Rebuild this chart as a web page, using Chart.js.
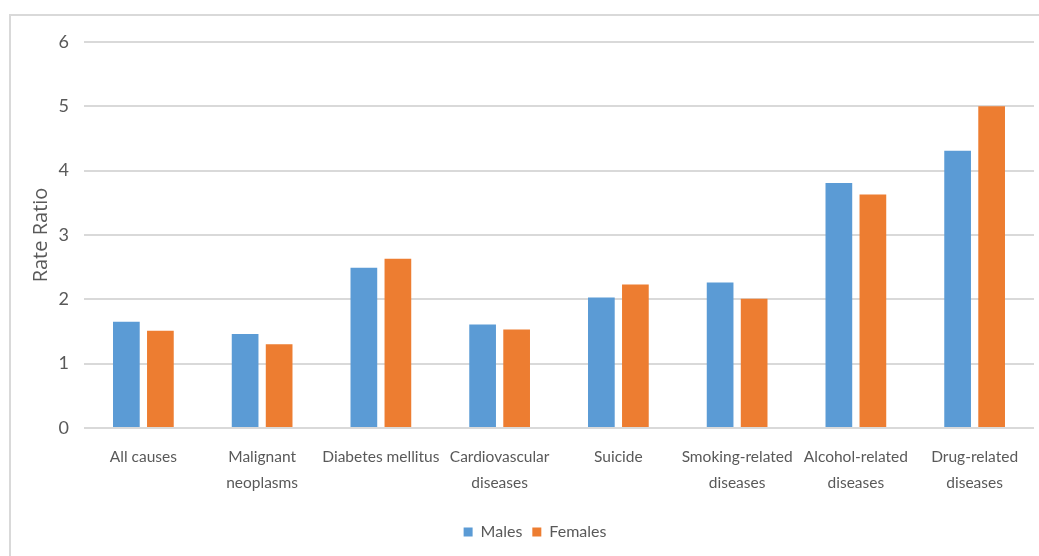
<!DOCTYPE html>
<html>
<head>
<meta charset="utf-8">
<title>Rate Ratio by cause of death</title>
<script src="https://cdn.jsdelivr.net/npm/chart.js@4/dist/chart.umd.min.js"></script>
<style>
  html, body { margin: 0; padding: 0; background: #fff; overflow: hidden; }
  /* light frame round the chart, running off the right and bottom edges */
  .frame {
    position: absolute; left: 9px; top: 14px;
    width: 1100px; height: 600px;
    border: 2px solid #d9d9d9;
  }
  .wrap { position: absolute; left: 0; top: 0; width: 1039px; height: 556px; }
</style>
</head>
<body>
<div class="frame"></div>
<div class="wrap"><canvas id="rrChart"></canvas></div>
<script>
/* categories (multi-line ones as arrays) */
const causes = [
  'All causes',
  ['Malignant', 'neoplasms'],
  'Diabetes mellitus',
  ['Cardiovascular', 'diseases'],
  'Suicide',
  ['Smoking-related', 'diseases'],
  ['Alcohol-related', 'diseases'],
  ['Drug-related', 'diseases']
];

/* rate ratios per sex */
const males   = [1.65, 1.46, 2.49, 1.61, 2.03, 2.26, 3.81, 4.31];
const females = [1.51, 1.30, 2.63, 1.53, 2.23, 2.01, 3.63, 5.00];

/* y axis range */
const yMin = 0;
const yMax = 6;
const yStep = 1;

const textColor = '#595959';
const gridColor = '#d9d9d9';
const labelFont = "Lato, sans-serif";

new Chart(document.getElementById('rrChart'), {
  type: 'bar',
  data: {
    labels: causes,
    datasets: [
      { label: 'Males',   data: males,   backgroundColor: '#5b9bd5' },
      { label: 'Females', data: females, backgroundColor: '#ed7d31' }
    ]
  },
  options: {
    responsive: true,
    maintainAspectRatio: false,
    animation: false,
    categoryPercentage: 0.573,
    barPercentage: 0.785,
    layout: { padding: { left: 36, right: 5, top: 42, bottom: 6 } },
    plugins: {
      tooltip: { enabled: false },
      legend: {
        position: 'bottom',
        labels: {
          color: textColor,
          font: { family: labelFont, size: 16 },
          boxWidth: 9,
          boxHeight: 9,
          padding: 10
        }
      }
    },
    scales: {
      x: {
        grid: { display: false },
        border: { display: false },
        ticks: {
          color: textColor,
          font: { family: labelFont, size: 15.5, lineHeight: 1.68 },
          padding: 8,
          maxRotation: 0,
          autoSkip: false
        },
        afterFit: (scale) => { scale.height = 86; }
      },
      y: {
        min: yMin,
        max: yMax,
        border: { display: false },
        grid: { color: gridColor, lineWidth: 2, drawTicks: false },
        ticks: {
          stepSize: yStep,
          color: textColor,
          font: { family: labelFont, size: 18 },
          padding: 15
        },
        title: {
          display: true,
          text: 'Rate Ratio',
          color: textColor,
          font: { family: "'Open Sans', sans-serif", size: 20 },
          padding: { top: -7, bottom: 0 }
        },
        afterFit: (scale) => { scale.width = 48; }
      }
    }
  }
});
</script>
</body>
</html>
